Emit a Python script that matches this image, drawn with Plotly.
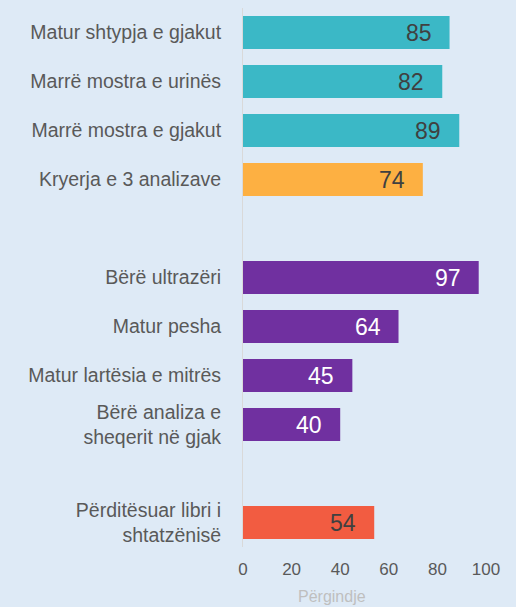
import plotly.graph_objects as go

categories = ["Matur shtypja e gjakut", "Marrë mostra e urinës", "Marrë mostra e gjakut",
              "Kryerja e 3 analizave", " ", "Bërë ultrazëri", "Matur pesha",
              "Matur lartësia e mitrës", "Bërë analiza e<br>sheqerit në gjak", "  ",
              "Përditësuar libri i<br>shtatzënisë"]
values = [85, 82, 89, 74, None, 97, 64, 45, 40, None, 54]
bar_colors = ["#3bb8c6", "#3bb8c6", "#3bb8c6", "#fdb042", "#ffffff", "#7030a0", "#7030a0",
              "#7030a0", "#7030a0", "#ffffff", "#f25c41"]
label_colors = ["#404040", "#404040", "#404040", "#404040", "#404040", "#ffffff", "#ffffff",
                "#ffffff", "#ffffff", "#404040", "#404040"]
x_ticks = [0, 20, 40, 60, 80, 100]
x_title = "Përgindje"

FONT = "Liberation Sans, Arial, sans-serif"

fig = go.Figure(go.Bar(
    y=categories, x=values, orientation="h",
    marker=dict(color=bar_colors, line=dict(width=0)),
    hoverinfo="skip",
))

for c, v, lc in zip(categories, values, label_colors):
    if v is None:
        continue
    fig.add_annotation(x=v, y=c, xref="x", yref="y", text=str(v), showarrow=False,
                       xanchor="right", yanchor="middle", xshift=-16,
                       font=dict(family=FONT, size=23, color=lc))

fig.add_annotation(x=(332 - 243) / 243, y=-(596 - 547) / 539, xref="paper", yref="paper",
                   text=x_title, showarrow=False, xanchor="center", yanchor="middle",
                   font=dict(family=FONT, size=16, color="#bfbfbf"))

fig.update_layout(
    width=516, height=607,
    margin=dict(l=243, r=30, t=8, b=60),
    paper_bgcolor="#deeaf6", plot_bgcolor="#deeaf6",
    bargap=16 / 49,
    showlegend=False,
    font=dict(family=FONT, color="#595959"),
)
fig.update_xaxes(range=[0, 100], tickvals=x_ticks, showgrid=False, zeroline=False,
                 showline=False, ticklabelstandoff=10,
                 tickfont=dict(size=17, color="#595959"))
fig.update_yaxes(autorange="reversed", showgrid=False, showline=True, linecolor="#d9d9d9",
                 linewidth=1, ticklabelstandoff=17, tickfont=dict(size=19.5, color="#595959"))

fig.write_html("out.html", config={"displayModeBar": False},
               post_script="document.body.style.margin='0';document.body.style.background='#deeaf6';")
